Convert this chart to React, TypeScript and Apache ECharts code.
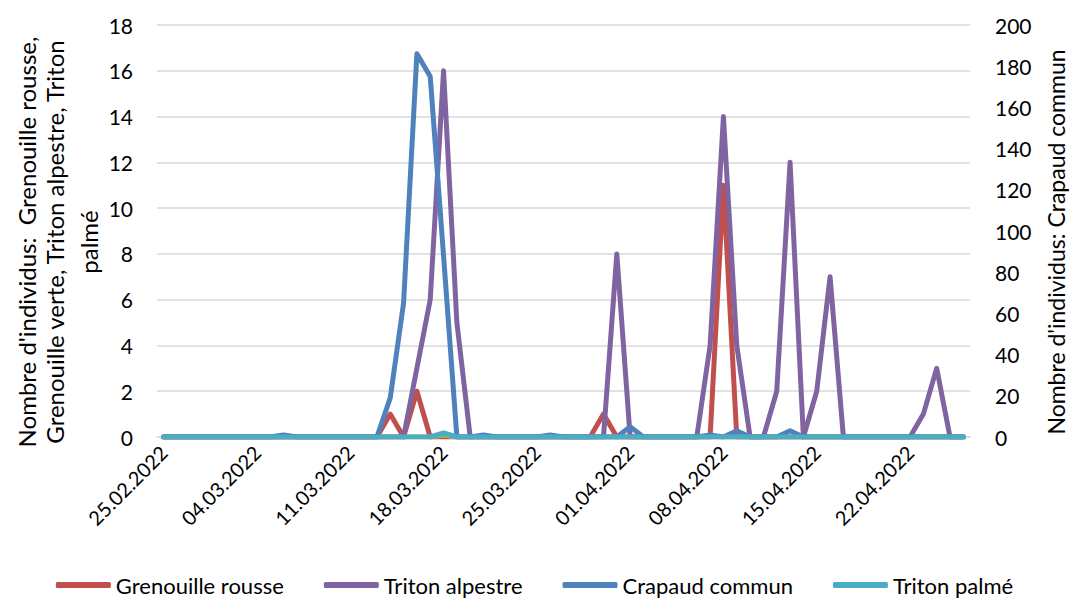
import React, { useEffect, useRef } from "react";
import * as echarts from "echarts";

const dates = [
  "25.02.2022", "26.02.2022", "27.02.2022", "28.02.2022", "01.03.2022", "02.03.2022", "03.03.2022",
  "04.03.2022", "05.03.2022", "06.03.2022", "07.03.2022", "08.03.2022", "09.03.2022", "10.03.2022",
  "11.03.2022", "12.03.2022", "13.03.2022", "14.03.2022", "15.03.2022", "16.03.2022", "17.03.2022",
  "18.03.2022", "19.03.2022", "20.03.2022", "21.03.2022", "22.03.2022", "23.03.2022", "24.03.2022",
  "25.03.2022", "26.03.2022", "27.03.2022", "28.03.2022", "29.03.2022", "30.03.2022", "31.03.2022",
  "01.04.2022", "02.04.2022", "03.04.2022", "04.04.2022", "05.04.2022", "06.04.2022", "07.04.2022",
  "08.04.2022", "09.04.2022", "10.04.2022", "11.04.2022", "12.04.2022", "13.04.2022", "14.04.2022",
  "15.04.2022", "16.04.2022", "17.04.2022", "18.04.2022", "19.04.2022", "20.04.2022", "21.04.2022",
  "22.04.2022", "23.04.2022", "24.04.2022", "25.04.2022", "26.04.2022",
];

const grenouilleRousse = [
  0, 0, 0, 0, 0, 0, 0, 0, 0, 0,
  0, 0, 0, 0, 0, 0, 0, 1, 0, 2,
  0, 0, 0, 0, 0, 0, 0, 0, 0, 0,
  0, 0, 0, 1, 0, 0, 0, 0, 0, 0,
  0, 0, 11, 0, 0, 0, 0, 0, 0, 0,
  0, 0, 0, 0, 0, 0, 0, 0, 0, 0,
  0,
];

const grenouilleVerte = [
  0, 0, 0, 0, 0, 0, 0, 0, 0, 0,
  0, 0, 0, 0, 0, 0, 0, 0, 0, 0,
  0, 1, 0, 0, 0, 0, 0, 0, 0, 0,
  0, 0, 0, 0, 0, 0, 0, 0, 0, 0,
  0, 0, 0, 0, 0, 0, 0, 0, 0, 0,
  0, 0, 0, 0, 0, 0, 0, 0, 0, 0,
  0,
];

const tritonAlpestre = [
  0, 0, 0, 0, 0, 0, 0, 0, 0, 0,
  0, 0, 0, 0, 0, 0, 0, 0, 0, 3,
  6, 16, 5, 0, 0, 0, 0, 0, 0, 0,
  0, 0, 0, 0, 8, 0, 0, 0, 0, 0,
  0, 4, 14, 4, 0, 0, 2, 12, 0, 2,
  7, 0, 0, 0, 0, 0, 0, 1, 3, 0,
  0,
];

const crapaudCommun = [
  0, 0, 0, 0, 0, 0, 0, 0, 0, 1,
  0, 0, 0, 0, 0, 0, 0, 19, 65, 186,
  175, 88, 0, 0, 1, 0, 0, 0, 0, 1,
  0, 0, 0, 0, 0, 5, 0, 0, 0, 0,
  0, 1, 0, 3, 0, 0, 0, 3, 0, 0,
  0, 0, 0, 0, 0, 0, 0, 0, 0, 0,
  0,
];

const tritonPalme = [
  0, 0, 0, 0, 0, 0, 0, 0, 0, 0,
  0, 0, 0, 0, 0, 0, 0, 0, 0, 0,
  0, 2, 0, 0, 0, 0, 0, 0, 0, 0,
  0, 0, 0, 0, 0, 0, 0, 0, 0, 0,
  0, 0, 0, 0, 0, 0, 0, 0, 0, 0,
  0, 0, 0, 0, 0, 0, 0, 0, 0, 0,
  0,
];

const leftTitleLines = [
  "Nombre d'individus:  Grenouille rousse,",
  "Grenouille verte, Triton alpestre, Triton",
  "palmé",
];
const rightTitle = "Nombre d'individus: Crapaud commun";

const FONT = "Lato, 'Noto Sans', sans-serif";

export default function App() {
  const ref = useRef<HTMLDivElement>(null);

  useEffect(() => {
    if (!ref.current) return;
    const chart = echarts.init(ref.current, undefined, { renderer: "svg" });

    const mkLine = (name: string, data: number[], color: string, yAxisIndex: number) => ({
      name,
      type: "line",
      data,
      yAxisIndex,
      symbol: "none",
      smooth: false,
      lineStyle: { color, width: 5, cap: "round", join: "round" },
      itemStyle: { color },
    });

    const titleX = [26, 54, 88];

    chart.setOption({
      animation: false,
      textStyle: { fontFamily: FONT },
      grid: { left: 157, right: 99, top: 25, bottom: 164, containLabel: false },
      legend: {
        bottom: 0,
        left: "center",
        data: ["Grenouille rousse", "Triton alpestre", "Crapaud commun", "Triton palmé"],
        icon: "roundRect",
        itemWidth: 55,
        itemHeight: 6,
        itemGap: 40,
        textStyle: { fontFamily: FONT, fontSize: 22, color: "#000" },
      },
      xAxis: {
        type: "category",
        data: dates,
        boundaryGap: true,
        axisLine: { lineStyle: { color: "#d9d9d9", width: 1.5 } },
        axisTick: { interval: 6, length: 6, lineStyle: { color: "#d9d9d9", width: 1.5 } },
        axisLabel: {
          interval: 6,
          rotate: 45,
          margin: 12,
          fontFamily: FONT,
          fontSize: 20,
          color: "#000",
        },
        splitLine: { show: false },
      },
      yAxis: [
        {
          type: "value",
          min: 0,
          max: 18,
          interval: 2,
          axisLine: { show: false },
          axisTick: { show: false },
          axisLabel: { margin: 24, fontFamily: FONT, fontSize: 21, color: "#000" },
          splitLine: { lineStyle: { color: "#d9d9d9", width: 1.5 } },
        },
        {
          type: "value",
          min: 0,
          max: 200,
          interval: 20,
          position: "right",
          axisLine: { show: false },
          axisTick: { show: false },
          axisLabel: { margin: 25, fontFamily: FONT, fontSize: 21, color: "#000" },
          splitLine: { show: false },
        },
      ],
      graphic: [
        ...leftTitleLines.map((t, i) => ({
          type: "text",
          x: titleX[i],
          y: 242,
          rotation: Math.PI / 2,
          style: {
            text: t,
            fontFamily: FONT,
            fontSize: 24,
            fill: "#000",
            align: "center",
            verticalAlign: "middle",
          },
        })),
        {
          type: "text",
          x: 1056,
          y: 242,
          rotation: Math.PI / 2,
          style: {
            text: rightTitle,
            fontFamily: FONT,
            fontSize: 23,
            fill: "#000",
            align: "center",
            verticalAlign: "middle",
          },
        },
      ],
      series: [
        mkLine("Grenouille rousse", grenouilleRousse, "#C0504D", 0),
        mkLine("Grenouille verte", grenouilleVerte, "#9BBB59", 1),
        mkLine("Triton alpestre", tritonAlpestre, "#8064A2", 0),
        mkLine("Crapaud commun", crapaudCommun, "#4F81BD", 1),
        mkLine("Triton palmé", tritonPalme, "#4BACC6", 1),
      ],
    });

    return () => chart.dispose();
  }, []);

  return (
    <div
      ref={ref}
      style={{ position: "absolute", left: 0, top: 0, width: 1069, height: 601 }}
    />
  );
}
